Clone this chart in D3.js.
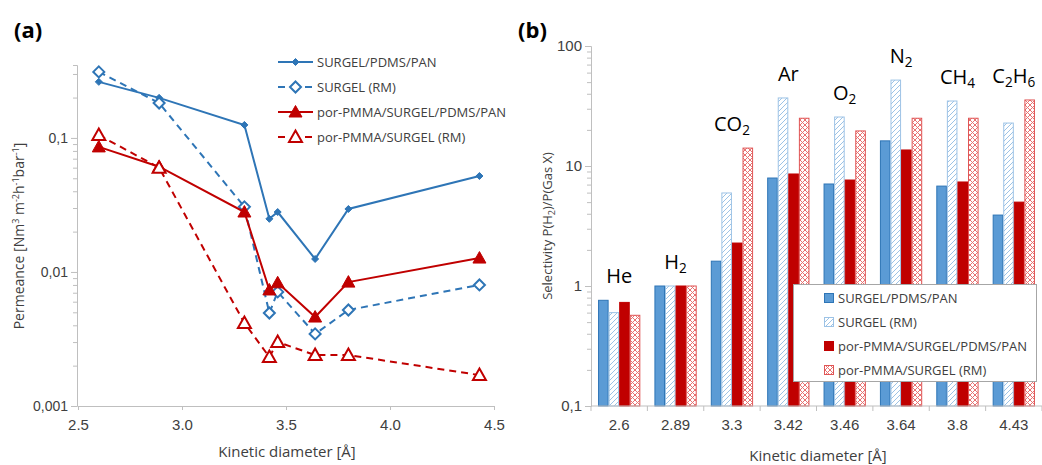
<!DOCTYPE html>
<html>
<head>
<meta charset="utf-8">
<script src="https://cdn.jsdelivr.net/npm/d3@7"></script>
<style>
body { margin: 0; background: #fff; }
svg { font-family: "Open Sans", sans-serif; }
</style>
</head>
<body>
<svg id="chart" width="1042" height="465"></svg>
<script>
const diameters = [2.6, 2.89, 3.3, 3.42, 3.46, 3.64, 3.8, 4.43]
const gases = ["He", "H2", "CO2", "Ar", "O2", "N2", "CH4", "C2H6"]
const seriesNames = ["SURGEL/PDMS/PAN", "SURGEL (RM)", "por-PMMA/SURGEL/PDMS/PAN", "por-PMMA/SURGEL (RM)"]

// permeance, Nm3 m-2 h-1 bar-1
const permSurgelPdmsPan = [0.262, 0.199, 0.125, 0.0249, 0.028, 0.0125, 0.0295, 0.052]
const permSurgelRM = [0.311, 0.182, 0.0306, 0.00494, 0.0071, 0.00345, 0.0052, 0.008]
const permPmmaPdmsPan = [0.0857, 0.061, 0.028, 0.00734, 0.0083, 0.00461, 0.0084, 0.0127]
const permPmmaRM = [0.105, 0.060, 0.00416, 0.00232, 0.0030, 0.0024, 0.0024, 0.0017]

// selectivity P(H2)/P(gas)
const selSurgelPdmsPan = [0.76, 1, 1.61, 7.94, 7.08, 16.2, 6.8, 3.9]
const selSurgelRM = [0.60, 1, 5.96, 36.9, 25.6, 52, 34.8, 22.8]
const selPmmaPdmsPan = [0.73, 1, 2.28, 8.58, 7.64, 13.6, 7.36, 5.0]
const selPmmaRM = [0.57, 1, 14.1, 25, 19.6, 25, 25, 35.5]

const xTicksA = [2.5, 3.0, 3.5, 4.0, 4.5]
const yTicksA = [0.001, 0.01, 0.1]
const yTicksB = [0.1, 1, 10, 100]

const textColor = '#404040'
const axisColor = '#BFBFBF'
const blue = '#2E75B6'
const red = '#C00000'

let svg = d3.select('#chart')

let defs = svg.append('defs')
let pBlue = defs.append('pattern').attr('id', 'hatchBlue').attr('patternUnits', 'userSpaceOnUse')
    .attr('width', 5).attr('height', 5)
pBlue.append('rect').attr('width', 5).attr('height', 5).attr('fill', '#fff')
pBlue.append('path').attr('d', 'M-1,6 L6,-1 M-1,1 L1,-1 M4,6 L6,4')
    .attr('stroke', '#9DC3E6').attr('stroke-width', 1)
let pRed = defs.append('pattern').attr('id', 'hatchRed').attr('patternUnits', 'userSpaceOnUse')
    .attr('width', 5).attr('height', 5)
pRed.append('rect').attr('width', 5).attr('height', 5).attr('fill', '#fff')
pRed.append('path').attr('d', 'M0,0 L5,5 M5,0 L0,5')
    .attr('stroke', '#E87272').attr('stroke-width', 1)

function minorTicks(lo, hi) {
    let out = []
    for (let dec = lo; dec <= hi * 1.0001; dec *= 10) {
        for (let k = 1; k < 10; k++) {
            let v = +(k * dec).toPrecision(3)
            if (v <= hi * 1.0001) out.push(v)
        }
    }
    return out
}

function styleAxis(g, size) {
    g.select('.domain').attr('stroke', axisColor)
    g.selectAll('.tick line').attr('stroke', axisColor)
    g.selectAll('.tick text').attr('fill', textColor).attr('font-size', size)
}

function formula(text, str, size) {
    let parts = str.match(/[A-Za-z]+|\d+/g)
    parts.forEach(p => {
        if (/\d/.test(p)) {
            text.append('tspan').attr('font-size', size * 0.68).attr('dy', size * 0.22).text(p)
        } else {
            let t = text.append('tspan').attr('font-size', size).text(p)
            if (text.selectAll('tspan').size() > 1) t.attr('dy', -size * 0.22)
        }
    })
}

function decimalComma(d) {
    return String(d).replace('.', ',')
}

// ---------- panel (a) ----------

let xA = d3.scaleLinear().domain([2.5, 4.5]).range([78, 494])
let yA = d3.scaleLog().domain([0.001, 0.35]).range([406, 65])

svg.append('text').attr('x', 14).attr('y', 38).attr('font-size', 22).attr('font-weight', 'bold')
    .attr('fill', '#000').text('(a)')

let gxA = svg.append('g').attr('transform', 'translate(0,406)')
    .call(d3.axisBottom(xA).tickValues(xTicksA).tickFormat(d => d.toFixed(1)).tickSize(4).tickPadding(9))
styleAxis(gxA, 15)

let gyA = svg.append('g').attr('transform', 'translate(77,0)')
    .call(d3.axisLeft(yA).tickValues(minorTicks(0.001, 0.35))
        .tickFormat(d => yTicksA.includes(d) ? decimalComma(d) : '').tickSize(4).tickPadding(5))
gyA.selectAll('.tick line').attr('x2', d => yTicksA.includes(d) ? -6 : -4)
styleAxis(gyA, 14)

svg.append('text').attr('x', 287).attr('y', 457).attr('text-anchor', 'middle')
    .attr('font-size', 15).attr('fill', textColor).text('Kinetic diameter [Å]')

let titleA = svg.append('text').attr('transform', 'translate(24,236) rotate(-90)')
    .attr('text-anchor', 'middle').attr('font-size', 14).attr('fill', textColor)
titleA.append('tspan').text('Permeance  [Nm')
titleA.append('tspan').attr('font-size', 9).attr('dy', -5).text('3')
titleA.append('tspan').attr('dy', 5).text(' m')
titleA.append('tspan').attr('font-size', 9).attr('dy', -5).text('-2')
titleA.append('tspan').attr('dy', 5).text('h')
titleA.append('tspan').attr('font-size', 9).attr('dy', -5).text('-1')
titleA.append('tspan').attr('dy', 5).text('bar')
titleA.append('tspan').attr('font-size', 9).attr('dy', -5).text('-1')
titleA.append('tspan').attr('dy', 5).text(']')

const markers = {
    dot: 'M0,-3.5 L3.5,0 L0,3.5 L-3.5,0Z',
    diamond: 'M0,-5.5 L5.5,0 L0,5.5 L-5.5,0Z',
    triangle: 'M0,-6.5 L6.5,5 L-6.5,5Z'
}

let linesA = [
    {name: seriesNames[0], values: permSurgelPdmsPan, color: blue, dash: null, marker: 'dot', open: false},
    {name: seriesNames[1], values: permSurgelRM, color: blue, dash: '7,5', marker: 'diamond', open: true},
    {name: seriesNames[2], values: permPmmaPdmsPan, color: red, dash: null, marker: 'triangle', open: false},
    {name: seriesNames[3], values: permPmmaRM, color: red, dash: '7,5', marker: 'triangle', open: true}
]

let line = d3.line().x((d, i) => xA(diameters[i])).y(d => yA(d))

let series = svg.append('g').selectAll('g.series').data(linesA).join('g').attr('class', 'series')
series.append('path')
    .attr('d', d => line(d.values))
    .attr('fill', 'none')
    .attr('stroke', d => d.color)
    .attr('stroke-width', 2)
    .attr('stroke-dasharray', d => d.dash)
series.each(function(s) {
    d3.select(this).selectAll('path.mark').data(s.values).join('path')
        .attr('class', 'mark')
        .attr('transform', (d, i) => 'translate(' + xA(diameters[i]) + ',' + yA(d) + ')')
        .attr('d', markers[s.marker])
        .attr('fill', s.open ? '#fff' : s.color)
        .attr('stroke', s.color)
        .attr('stroke-width', s.open ? 2 : 1)
})

let legA = svg.append('g').selectAll('g').data(linesA).join('g')
    .attr('transform', (d, i) => 'translate(0,' + (62 + i * 25) + ')')
legA.append('line').attr('x1', 278).attr('x2', 313)
    .attr('stroke', d => d.color).attr('stroke-width', 2)
    .attr('stroke-dasharray', d => d.dash ? '7,6.5' : null)
legA.append('path').attr('transform', 'translate(295.5,0)')
    .attr('d', d => markers[d.marker])
    .attr('fill', d => d.open ? '#fff' : d.color)
    .attr('stroke', d => d.color)
    .attr('stroke-width', d => d.open ? 2 : 1)
legA.append('text').attr('x', 317).attr('dy', '0.35em').attr('font-size', 13)
    .attr('fill', textColor).text(d => d.name)

// ---------- panel (b) ----------

let cats = diameters.map(String)
let xB = d3.scaleBand().domain(cats).range([591, 1042]).paddingInner(0.25).paddingOuter(0.125)
let xSub = d3.scaleBand().domain([0, 1, 2, 3]).range([0, xB.bandwidth()])
let yB = d3.scaleLog().domain([0.1, 100]).range([406, 46])

svg.append('text').attr('x', 518).attr('y', 38).attr('font-size', 22).attr('font-weight', 'bold')
    .attr('fill', '#000').text('(b)')

let barsB = [
    {name: seriesNames[0], values: selSurgelPdmsPan, fill: '#5B9BD5', stroke: blue},
    {name: seriesNames[1], values: selSurgelRM, fill: 'url(#hatchBlue)', stroke: '#9DC3E6'},
    {name: seriesNames[2], values: selPmmaPdmsPan, fill: red, stroke: red},
    {name: seriesNames[3], values: selPmmaRM, fill: 'url(#hatchRed)', stroke: '#E05555'}
]

let gyB = svg.append('g').attr('transform', 'translate(591,0)')
    .call(d3.axisLeft(yB).tickValues(minorTicks(0.1, 100))
        .tickFormat(d => yTicksB.includes(d) ? decimalComma(d) : '').tickSize(4).tickPadding(5))
gyB.selectAll('.tick line').attr('x2', d => yTicksB.includes(d) ? -6 : -4)
styleAxis(gyB, 15)

svg.append('g').selectAll('g').data(barsB).join('g')
    .each(function(s, si) {
        d3.select(this).selectAll('rect').data(s.values).join('rect')
            .attr('x', (d, i) => xB(cats[i]) + xSub(si) + 0.5)
            .attr('y', d => yB(d))
            .attr('width', xSub.bandwidth() - 1)
            .attr('height', d => yB(0.1) - yB(d))
            .attr('fill', s.fill)
            .attr('stroke', s.stroke)
            .attr('stroke-width', 1)
    })

let gxB = svg.append('g').attr('transform', 'translate(0,406)')
    .call(d3.axisBottom(xB).tickSize(0).tickPadding(13))
gxB.select('.domain').remove()
gxB.append('line').attr('x1', 591).attr('x2', 1042).attr('stroke', axisColor)
gxB.selectAll('line.sep').data(d3.range(cats.length + 1)).join('line')
    .attr('class', 'sep')
    .attr('x1', i => xB.range()[0] + i * xB.step())
    .attr('x2', i => xB.range()[0] + i * xB.step())
    .attr('y2', 5).attr('stroke', axisColor)
styleAxis(gxB, 15)

svg.append('text').attr('x', 818).attr('y', 461).attr('text-anchor', 'middle')
    .attr('font-size', 15).attr('fill', textColor).text('Kinetic diameter [Å]')

let titleB = svg.append('text').attr('transform', 'translate(552,226) rotate(-90)')
    .attr('text-anchor', 'middle').attr('font-size', 13).attr('fill', textColor)
titleB.append('tspan').text('Selectivity P(H')
titleB.append('tspan').attr('font-size', 9).attr('dy', 3).text('2')
titleB.append('tspan').attr('dy', -3).text(')/P(Gas X)')

gases.forEach((g, i) => {
    let top = d3.max(barsB, s => s.values[i])
    let t = svg.append('text')
        .attr('x', xB(cats[i]) + xB.bandwidth() / 2)
        .attr('y', yB(top) - 17)
        .attr('text-anchor', 'middle')
        .attr('fill', '#000')
    formula(t, g, 20)
})

let legB = svg.append('g')
legB.append('rect').attr('x', 793.5).attr('y', 284.5).attr('width', 243).attr('height', 97)
    .attr('fill', '#fff').attr('stroke', '#A6A6A6')
let legItems = legB.selectAll('g').data(barsB).join('g')
    .attr('transform', (d, i) => 'translate(0,' + (298 + i * 24) + ')')
legItems.append('rect').attr('x', 824.5).attr('y', -4.5).attr('width', 9).attr('height', 9)
    .attr('fill', d => d.fill).attr('stroke', d => d.stroke)
legItems.append('text').attr('x', 838).attr('dy', '0.35em').attr('font-size', 13)
    .attr('fill', textColor).text(d => d.name)
</script>
</body>
</html>
